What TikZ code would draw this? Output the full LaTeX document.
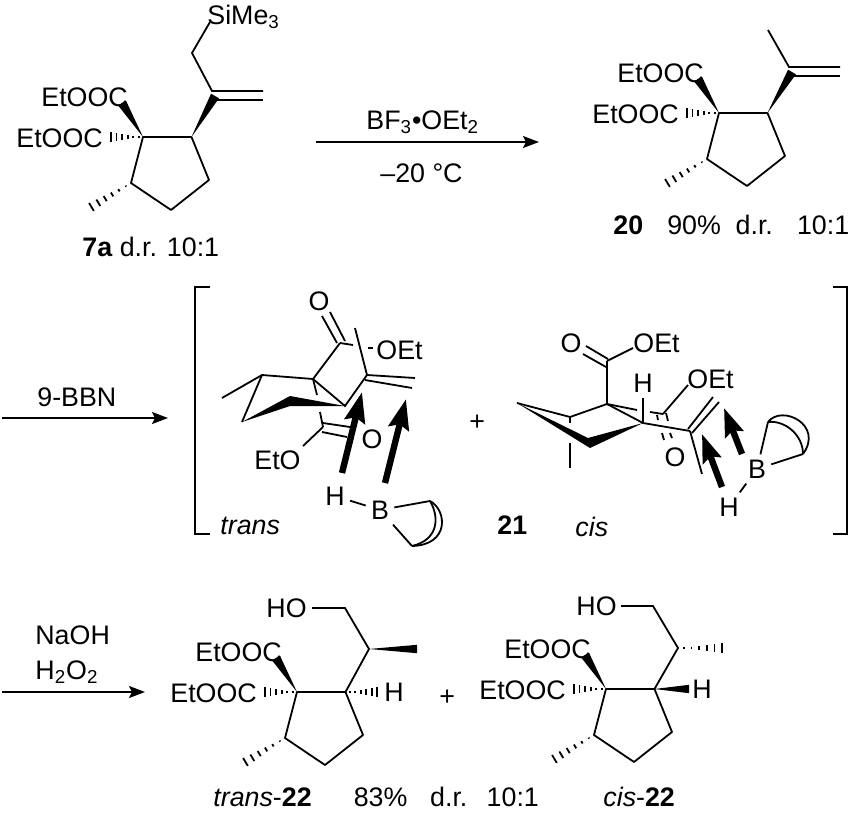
\documentclass[tikz,border=0pt]{standalone}
\usepackage{fontspec}
\setmainfont{Liberation Sans}
\usetikzlibrary{arrows.meta, calc}

% solid and hashed stereo bonds, narrow end first
\newcommand{\wedgebond}[3][2.3pt]{\fill (#2) -- ($(#3)!#1!90:(#2)$) -- ($(#3)!#1!-90:(#2)$) -- cycle;}
\newcommand{\hashbond}[2]{\foreach \t/\w in {.12/.3,.28/.7,.44/1.1,.6/1.5,.76/1.9,.92/2.3}
    {\draw[hash] ($(#1)!\t!(#2)!\w pt!90:(#2)$) -- ($(#1)!\t!(#2)!\w pt!-90:(#2)$);}}

\tikzset{
    bond/.style={line width=0.9pt},
    hash/.style={line width=0.9pt},
    atom/.style={font=\fontsize{13.4}{16}\selectfont, inner sep=0pt, anchor=base west},
    hetero/.style={font=\fontsize{13.4}{16}\selectfont, inner sep=2.5pt},
    italabel/.style={atom, font=\fontsize{13.4}{16}\selectfont\itshape},
    rxn/.style={line width=0.9pt, -{Stealth[length=8pt,width=6pt,inset=1.5pt]}},
    attack/.style={line width=3.2pt, -{Stealth[length=#1,width=#1*0.68,inset=2pt]}},
    attack/.default=14pt,
    pics/estercore/.style={code={
        \coordinate (-ca) at (0,0);
        \coordinate (-cb) at (48.5,0);
        \coordinate (-cc) at (66,43);
        \coordinate (-cd) at (28,73);
        \coordinate (-ce) at (-12,46);
        \coordinate (-me) at (-55,72);
        \coordinate (-up) at (-21,-34);
        \coordinate (-dn) at (-35,0);
        \node[atom] (-upper) at (-102,-30.5) {EtOOC};
        \node[atom] (-lower) at (-127,10) {EtOOC};
        \draw[bond, line join=round] (-ca) -- (-cb) -- (-cc) -- (-cd) -- (-ce) -- cycle;
        \wedgebond{-ca}{-up}
        \hashbond{-ca}{-dn}
        \hashbond{-ce}{-me}
    }}
}

\begin{document}
\begin{tikzpicture}[x=0.5pt, y=-0.5pt]
    \useasboundingbox (0,0) rectangle (853,814);

    % 7a
    \pic (sm) at (143,137) {estercore};
    \coordinate (smvinyl) at (212,91);
    \coordinate (smwedge) at (215,96);
    \coordinate (smch) at (192,53);
    \coordinate (smsi) at (210,22);
    \coordinate (smeta) at (263,91);
    \coordinate (smetb) at (263,100);
    \coordinate (smvinylb) at (215,100);
    \node[atom] (simethree) at (207,24) {SiMe\textsubscript{3}};
    \draw[bond] (smsi) -- (smch) -- (smvinyl) -- (smeta);
    \draw[bond] (smvinylb) -- (smetb);
    \wedgebond{sm-cb}{smwedge}
    \node[atom] (smcap) at (82,256) {\textbf{7a} d.r. 10:1};

    % BF3 step
    \coordinate (ara) at (316,142);
    \coordinate (arb) at (539,142);
    \draw[rxn] (ara) -- (arb);
    \node[atom] (bfthree) at (366,129) {BF\textsubscript{3}•OEt\textsubscript{2}};
    \node[atom] (tempb) at (380,182) {–20 °C};

    % 20
    \pic (pr) at (719,113) {estercore};
    \coordinate (prvinyl) at (789,67);
    \coordinate (prwedge) at (792,72);
    \coordinate (prme) at (768,30);
    \coordinate (preta) at (840,67);
    \coordinate (pretb) at (840,76);
    \coordinate (prvinylb) at (792,76);
    \draw[bond] (prme) -- (prvinyl) -- (preta);
    \draw[bond] (prvinylb) -- (pretb);
    \wedgebond{pr-cb}{prwedge}
    \node[atom] (prcap) at (613,234) {\textbf{20}\hspace{0.9em}90\%\hspace{0.55em}d.r.\hspace{0.9em}10:1};

    % 9-BBN step
    \coordinate (brn) at (2,418);
    \coordinate (bre) at (168,418);
    \draw[rxn] (brn) -- (bre);
    \node[atom] (bbn) at (37,406) {9-BBN};

    % brackets
    \coordinate (lba) at (210,287);
    \coordinate (lbb) at (195,287);
    \coordinate (lbc) at (195,534);
    \coordinate (lbd) at (210,534);
    \coordinate (rba) at (833,287);
    \coordinate (rbb) at (847,287);
    \coordinate (rbc) at (847,534);
    \coordinate (rbd) at (833,534);
    \draw[bond] (lba) -- (lbb) -- (lbc) -- (lbd);
    \draw[bond] (rba) -- (rbb) -- (rbc) -- (rbd);

    % trans
    \node[hetero] (tox) at (319,301) {O};
    \node[atom] (toet) at (376,359) {OEt};
    \node[hetero] (toy) at (372,439) {O};
    \node[atom] (teto) at (254,469) {EtO};
    \node[hetero] (thyd) at (335,496) {H};
    \node[hetero] (tbor) at (380,510) {B};
    \node[italabel] (tlabel) at (220,534) {trans};
    \coordinate (tcoo) at (340,343);
    \coordinate (tq) at (313,379);
    \coordinate (tl) at (262,375);
    \coordinate (tme) at (222,398);
    \coordinate (tf) at (242,422);
    \coordinate (tw) at (290,396);
    \coordinate (tx) at (290,406);
    \coordinate (tr) at (345,406);
    \coordinate (tv) at (367,375);
    \coordinate (tvu) at (355,328);
    \coordinate (tc) at (323,427);
    \coordinate (tda) at (322,316);
    \coordinate (tdb) at (337,343);
    \coordinate (tdc) at (330,312);
    \coordinate (tdd) at (345,341);
    \coordinate (tce) at (353,345);
    \coordinate (tdf) at (368,348);
    \coordinate (tdg) at (373,348);
    \coordinate (tvb) at (415,378);
    \coordinate (tvc) at (365,380);
    \coordinate (tvd) at (412,388);
    \coordinate (tqa) at (317,395);
    \coordinate (tqb) at (320,412);
    \coordinate (tya) at (323,423);
    \coordinate (tyb) at (350,427);
    \coordinate (tyc) at (322,432);
    \coordinate (tyd) at (347,437);
    \coordinate (tea) at (303,446);
    \coordinate (taa) at (342,473);
    \coordinate (tab) at (362,392);
    \coordinate (tac) at (385,483);
    \coordinate (tad) at (406,399);
    \coordinate (tba) at (430,501);
    \coordinate (tbb) at (412,546);
    \draw[bond] (tda) -- (tdb);
    \draw[bond] (tdc) -- (tdd);
    \draw[bond] (tcoo) -- (tce);
    \draw[bond] (tdf) -- (tdg);
    \draw[bond] (tcoo) -- (tq) -- (tl) -- (tf);
    \draw[bond] (tl) -- (tme);
    \draw[bond] (tq) -- (tr) -- (tv) -- (tvu);
    \draw[bond] (tv) -- (tvb);
    \draw[bond] (tvc) -- (tvd);
    \fill (tf) -- (tw) -- (tr) -- (tx) -- cycle;
    \draw[bond] (tq) -- (tqa);
    \draw[bond] (tqb) -- (tc);
    \draw[bond] (tya) -- (tyb);
    \draw[bond] (tyc) -- (tyd);
    \draw[bond] (tc) -- (tea);
    \draw[attack=15pt] (taa) -- (tab);
    \draw[attack=15pt] (tac) -- (tad);
    \draw[bond] (thyd) -- (tbor);
    \draw[bond] (tbor) -- (tba);
    \draw[bond] (tbor) -- (tbb);
    \draw[bond] (tba) .. controls (447,510) and (450,545) .. (tbb);
    \draw[bond] (tba) .. controls (440,518) and (438,540) .. (tbb);

    \node[atom] (plusa) at (469,430) {+};
    \node[atom] (intno) at (497,534) {\textbf{21}};
    \node[italabel] (clabel) at (575,536) {cis};

    % cis
    \node[hetero] (cox) at (571,343) {O};
    \node[atom] (coet) at (633,352) {OEt};
    \node[hetero] (chyd) at (643,383) {H};
    \node[atom] (coef) at (687,388) {OEt};
    \node[hetero] (coy) at (675,457) {O};
    \node[hetero] (cbor) at (757,469) {B};
    \node[hetero] (chb) at (729,507) {H};
    \coordinate (ccoo) at (607,361);
    \coordinate (cq) at (607,404);
    \coordinate (cs) at (570,417);
    \coordinate (ct) at (517,403);
    \coordinate (cw) at (588,438);
    \coordinate (cx) at (590,448);
    \coordinate (cr) at (643,423);
    \coordinate (cv) at (690,431);
    \coordinate (ce) at (663,414);
    \coordinate (cda) at (586,346);
    \coordinate (cdb) at (608,359);
    \coordinate (cdc) at (583,354);
    \coordinate (cdd) at (606,367);
    \coordinate (coa) at (633,348);
    \coordinate (csa) at (570,423);
    \coordinate (csb) at (570,443);
    \coordinate (csc) at (570,468);
    \coordinate (cqa) at (637,410);
    \coordinate (cqb) at (650,412);
    \coordinate (chu) at (643,398);
    \coordinate (cea) at (688,385);
    \coordinate (cta) at (657,415);
    \coordinate (ctb) at (658,420);
    \coordinate (ctc) at (666,413);
    \coordinate (ctd) at (668,421);
    \coordinate (cte) at (662,433);
    \coordinate (ctf) at (664,440);
    \coordinate (ctg) at (670,433);
    \coordinate (cth) at (672,438);
    \coordinate (cva) at (688,429);
    \coordinate (cvb) at (713,397);
    \coordinate (cvc) at (692,433);
    \coordinate (cvd) at (719,402);
    \coordinate (cve) at (702,474);
    \coordinate (caa) at (722,487);
    \coordinate (cab) at (702,434);
    \coordinate (cac) at (742,454);
    \coordinate (cad) at (724,408);
    \coordinate (cba) at (768,422);
    \coordinate (cbb) at (803,454);
    \draw[bond] (cda) -- (cdb);
    \draw[bond] (cdc) -- (cdd);
    \draw[bond] (ccoo) -- (coa);
    \draw[bond] (ccoo) -- (cq) -- (cs) -- (ct);
    \fill (ct) -- (cw) -- (cr) -- (cx) -- cycle;
    \draw[bond] (cs) -- (csa);
    \draw[bond] (csb) -- (csc);
    \draw[bond] (cq) -- (cr) -- (cv);
    \draw[bond] (cq) -- (cqa);
    \draw[bond] (cqb) -- (ce);
    \draw[bond] (chu) -- (cr);
    \draw[bond] (ce) -- (cea);
    \draw[bond] (cta) -- (ctb);
    \draw[bond] (ctc) -- (ctd);
    \draw[bond] (cte) -- (ctf);
    \draw[bond] (ctg) -- (cth);
    \draw[bond] (cva) -- (cvb);
    \draw[bond] (cvc) -- (cvd);
    \draw[bond] (cv) -- (cve);
    \draw[attack=14pt] (caa) -- (cab);
    \draw[attack=14pt] (cac) -- (cad);
    \draw[bond] (cbor) -- (chb);
    \draw[bond] (cbor) -- (cba);
    \draw[bond] (cbor) -- (cbb);
    \draw[bond] (cba) .. controls (782,404) and (824,425) .. (cbb);
    \draw[bond] (cba) .. controls (785,420) and (803,435) .. (cbb);

    % NaOH step
    \coordinate (nrn) at (2,692);
    \coordinate (nre) at (145,692);
    \draw[rxn] (nrn) -- (nre);
    \node[atom] (naoh) at (35,644) {NaOH};
    \node[atom] (hoho) at (35,679) {H\textsubscript{2}O\textsubscript{2}};

    % trans-22
    \pic (ta) at (297,692) {estercore};
    \coordinate (tach) at (345,608);
    \coordinate (tacm) at (369,649);
    \coordinate (tame) at (417,649);
    \coordinate (taoh) at (312,608);
    \coordinate (tahh) at (380,692);
    \node[atom] (tahydroxy) at (266,617) {HO};
    \node[atom] (tahyd) at (384,701) {H};
    \draw[bond] (taoh) -- (tach) -- (tacm) -- (ta-cb);
    \wedgebond[2.1pt]{tacm}{tame}
    \hashbond{ta-cb}{tahh}
    \node[atom] (tacap) at (213,806) {\textit{trans}-\textbf{22}\hspace{1.57em}83\%\hspace{0.85em}d.r.\hspace{0.72em}10:1};

    \node[atom] (plusb) at (439,705) {+};

    % cis-22
    \pic (ca) at (606,689) {estercore};
    \coordinate (cach) at (653,606);
    \coordinate (cacm) at (678,648);
    \coordinate (came) at (726,648);
    \coordinate (caoh) at (621,606);
    \coordinate (cahh) at (689,689);
    \node[atom] (cahydroxy) at (576,615) {HO};
    \node[atom] (cahyd) at (692,698) {H};
    \draw[bond] (caoh) -- (cach) -- (cacm) -- (ca-cb);
    \wedgebond[2.1pt]{ca-cb}{cahh}
    \hashbond{cacm}{came}
    \node[atom] (cacap) at (603,806) {\textit{cis}-\textbf{22}};
\end{tikzpicture}
\end{document}
